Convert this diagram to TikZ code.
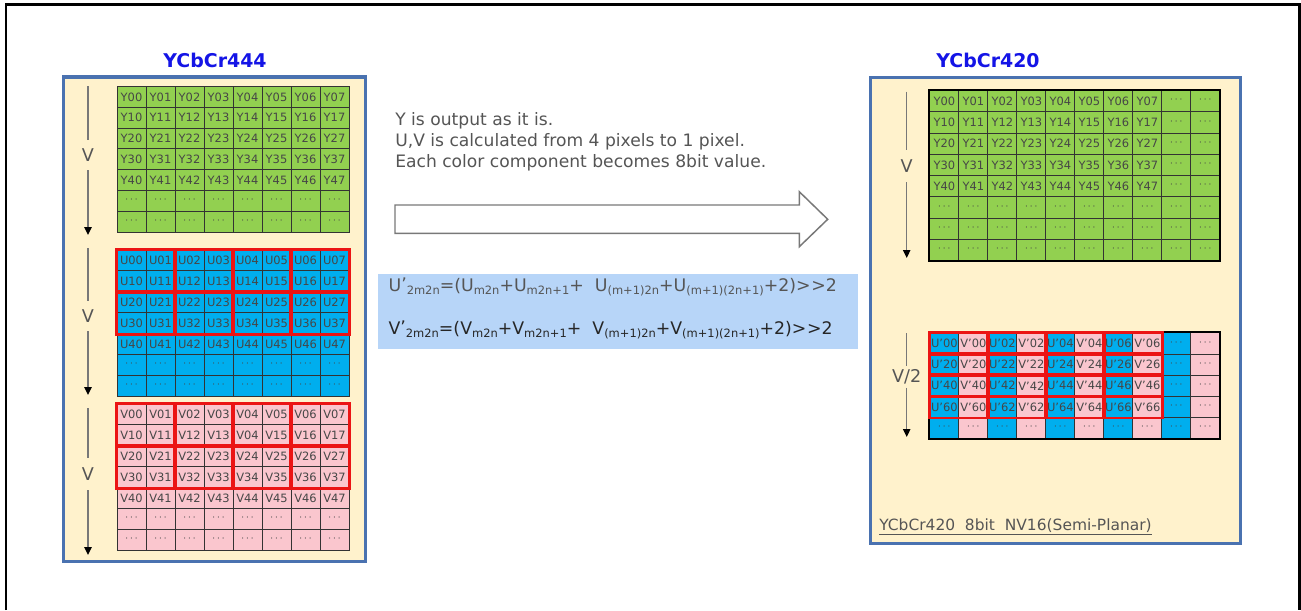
\documentclass[tikz,border=0pt]{standalone}
\usepackage{fontspec}
\setmainfont{DejaVu Sans}
\usetikzlibrary{arrows.meta}
\definecolor{ygreen}{RGB}{146,208,80}
\definecolor{ublue}{RGB}{0,174,238}
\definecolor{vpink}{RGB}{250,198,206}
\definecolor{panelfill}{RGB}{255,242,204}
\definecolor{panelline}{RGB}{74,114,176}
\definecolor{titleblue}{RGB}{20,20,230}
\definecolor{txtgray}{RGB}{85,85,85}
\definecolor{cellgray}{RGB}{70,70,70}
\definecolor{formbg}{RGB}{183,213,248}
\definecolor{redbox}{RGB}{235,20,20}
\definecolor{arrgray}{RGB}{120,120,120}
\newcommand\lowtxt[1]{\raisebox{-0.4ex}{\fontsize{8.6pt}{8.6pt}\selectfont #1}}
\newcommand\dotsx{{\fontsize{6.5pt}{6.5pt}\selectfont ·\hspace{1.5pt}·\hspace{1.5pt}·}}
\newcommand\apos{\symbol{39}}
\newcommand\shr{\textgreater\kern0.5pt\textgreater}
\newcommand\primex{\raisebox{0.1ex}{’}}
\begin{document}
\begin{tikzpicture}[x=0.75pt,y=-0.75pt,
  cellbox/.style={draw=black!80, line width=0.75pt, inner sep=0pt, anchor=north west,
    text=cellgray, font=\fontsize{8.6pt}{9pt}\selectfont, minimum width=21.75pt},
  panel/.style={draw=panelline, fill=panelfill, line width=2.25pt},
  title/.style={font=\fontsize{14.2pt}{16pt}\selectfont\bfseries, text=titleblue},
  vlabel/.style={font=\fontsize{13.2pt}{14pt}\selectfont, text=txtgray, inner sep=0pt},
  varrow/.style={draw=arrgray, line width=1.1pt},
  varrowtip/.style={draw=arrgray, line width=1.1pt, -{Triangle[width=5.5pt,length=6pt,color=black]}},
  redL/.style={draw=redbox, line width=2.25pt},
  redR/.style={draw=redbox, line width=1.9pt}
]
\useasboundingbox (0,0) rectangle (1301,610);
\fill[white] (0,0) rectangle (1301,610);
% outer frame
\draw[line width=1.8pt] (5.8,610) -- (5.8,4.5) -- (1299.6,4.5) -- (1299.6,610);

% panels
\draw[panel] (63,77) rectangle (365,561);
\draw[panel] (870,77.3) rectangle (1240.7,543);
\node[title] (t444) at (215,60) {YCbCr444};
\node[title] (t420) at (988,60) {YCbCr420};

% ---------- left Y grid
\foreach \r in {0,...,6} \foreach \c in {0,...,7} {
  \node[cellbox, fill=ygreen, minimum height=15.6pt] (ly-\r-\c) at ({116.5+\c*29},{86+\r*20.8})
    {\ifnum\r<5 Y\r\c\else\dotsx\fi};
}
% ---------- left U grid
\foreach \r in {0,...,6} \foreach \c in {0,...,7} {
  \node[cellbox, fill=ublue, minimum height=15.675pt] (lu-\r-\c) at ({116.5+\c*29},{249.5+\r*20.9})
    {\ifnum\r<5 U\r\c\else\dotsx\fi};
}
% ---------- left V grid
\foreach \r in {0,...,6} \foreach \c in {0,...,7} {
  \pgfmathtruncatemacro\rr{(\r==1 && \c==4) ? 0 : \r}
  \node[cellbox, fill=vpink, minimum height=15.675pt] (lv-\r-\c) at ({116.5+\c*29},{403.5+\r*20.9})
    {\ifnum\r<5 V\rr\c\else\dotsx\fi};
}
% red blocks left
\foreach \g in {lu,lv} \foreach \br in {0,2} \foreach \bc in {0,2,4,6} {
  \pgfmathtruncatemacro\er{\br+1}
  \pgfmathtruncatemacro\ec{\bc+1}
  \draw[redL] (\g-\br-\bc.north west) rectangle (\g-\er-\ec.south east);
}

% left V arrows
\node[vlabel, minimum height=22.5pt] (lvy) at (88,155) {V};
\coordinate (lvy-top) at (88,86);
\coordinate (lvy-bot) at (88,235);
\draw[varrow] (lvy-top) -- (lvy.north);
\draw[varrowtip] (lvy.south) -- (lvy-bot);
\node[vlabel, minimum height=22.5pt] (lvu) at (88,316) {V};
\coordinate (lvu-top) at (88,248);
\coordinate (lvu-bot) at (88,395);
\draw[varrow] (lvu-top) -- (lvu.north);
\draw[varrowtip] (lvu.south) -- (lvu-bot);
\node[vlabel, minimum height=24pt] (lvv) at (88,474) {V};
\coordinate (lvv-top) at (88,408);
\coordinate (lvv-bot) at (88,555);
\draw[varrow] (lvv-top) -- (lvv.north);
\draw[varrowtip] (lvv.south) -- (lvv-bot);

% ---------- right Y grid
\foreach \r in {0,...,7} \foreach \c in {0,...,9} {
  \node[cellbox, fill=ygreen, minimum height=15.94pt] (ry-\r-\c) at ({929.3+\c*29},{90+\r*21.25})
    {\ifnum\r<5 \ifnum\c<8 Y\r\c\else\dotsx\fi\else\dotsx\fi};
}
\draw[line width=1.6pt] (ry-0-0.north west) rectangle (ry-7-9.south east);

% ---------- right UV grid
\foreach \r in {0,...,4} \foreach \c in {0,...,9} {
  \pgfmathtruncatemacro\rr{2*\r}
  \pgfmathtruncatemacro\cc{\c-mod(\c,2)}
  \ifodd\c \def\cellfillc{vpink}\def\cellletter{V}\else\def\cellfillc{ublue}\def\cellletter{U}\fi
  \node[cellbox, fill=\cellfillc, minimum height=15.9pt] (ruv-\r-\c) at ({929.3+\c*29},{332.3+\r*21.2})
    {\ifnum\r<4 \ifnum\c<8 \cellletter\apos\rr\cc\else\dotsx\fi\else\dotsx\fi};
}
\draw[line width=1.6pt] (ruv-0-0.north west) rectangle (ruv-4-9.south east);
\foreach \br in {0,...,3} \foreach \bc in {0,2,4,6} {
  \pgfmathtruncatemacro\ec{\bc+1}
  \draw[redR] (ruv-\br-\bc.north west) rectangle (ruv-\br-\ec.south east);
}

% right arrows
\node[vlabel, minimum height=24pt] (rvy) at (906.7,166) {V};
\coordinate (rvy-top) at (906.7,91.7);
\coordinate (rvy-bot) at (906.7,258);
\draw[varrow] (rvy-top) -- (rvy.north);
\draw[varrowtip] (rvy.south) -- (rvy-bot);
\node[vlabel, minimum height=16pt] (rvuv) at (906.7,377) {V/2};
\coordinate (rvuv-top) at (906.7,333);
\coordinate (rvuv-bot) at (906.7,437);
\draw[varrow] (rvuv-top) -- (rvuv.north);
\draw[varrowtip] (rvuv.south) -- (rvuv-bot);

\node[anchor=west, inner sep=0pt, text=txtgray, font=\fontsize{11.6pt}{13pt}\selectfont] (fmt) at (879,527)
  {\underline{YCbCr420\ \ 8bit\ \ NV16(Semi-Planar)}};

% ---------- middle
\node[anchor=west, align=left, inner sep=0pt, text=txtgray,
  font=\fontsize{12.85pt}{15.75pt}\selectfont] (desc) at (395,141.5)
  {Y is output as it is.\\U,V is calculated from 4 pixels to 1 pixel.\\Each color component becomes 8bit value.};

\draw[draw=arrgray, line width=1.1pt, fill=white]
  (395,205) -- (799.3,205) -- (799.3,191.7) -- (827.7,219.3) -- (799.3,246.7) -- (799.3,233.3) -- (395,233.3) -- cycle;

\node[fill=formbg, anchor=north west, inner sep=0pt, minimum width=360pt, minimum height=56.25pt] (formbox) at (377.7,273.3) {};
\node[anchor=west, inner sep=0pt, text=txtgray, font=\fontsize{13pt}{14pt}\selectfont] (fu) at (388.3,287)
  {U\primex\lowtxt{2m2n}=(U\lowtxt{m2n}+U\lowtxt{m2n+1}+\ \ U\lowtxt{(m+1)2n}+U\lowtxt{(m+1)(2n+1)}+2)\shr2};
\node[anchor=west, inner sep=0pt, text=black!85, font=\fontsize{13pt}{14pt}\selectfont] (fv) at (388.3,330)
  {V\primex\lowtxt{2m2n}=(V\lowtxt{m2n}+V\lowtxt{m2n+1}+\ \ V\lowtxt{(m+1)2n}+V\lowtxt{(m+1)(2n+1)}+2)\shr2};
\end{tikzpicture}
\end{document}
